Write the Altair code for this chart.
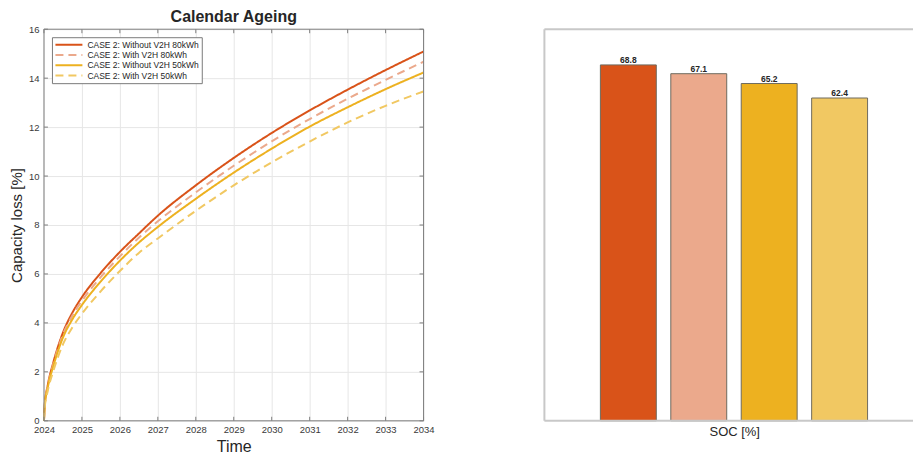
import altair as alt
import pandas as pd

# Series names (legend order) and colours
series_names = [
    "CASE 2: Without V2H 80kWh",
    "CASE 2: With V2H 80kWh",
    "CASE 2: Without V2H 50kWh",
    "CASE 2: With V2H 50kWh",
]
series_colors = ["#D95319", "#EBA98C", "#EDB120", "#F1C862"]
series_dashes = [[1, 0], [8, 5], [1, 0], [8, 5]]

# Calendar ageing curves: capacity loss [%] over time
years = [2024.0, 2024.02, 2024.1, 2024.25, 2024.5, 2024.75, 2025.0, 2025.5,
         2026.0, 2026.5, 2027.0, 2028.0, 2029.0, 2030.0, 2031.0, 2032.0,
         2033.0, 2034.0]
loss_without_80 = [0, 0.65, 1.45, 2.4, 3.6, 4.42, 5.05, 6.05,
                   6.9, 7.65, 8.38, 9.62, 10.74, 11.76, 12.68, 13.53,
                   14.33, 15.09]
loss_with_80 = [0, 0.63, 1.4, 2.33, 3.52, 4.3, 4.9, 5.88,
                6.72, 7.48, 8.15, 9.33, 10.42, 11.42, 12.33, 13.16,
                13.93, 14.67]
loss_without_50 = [0, 0.6, 1.36, 2.25, 3.4, 4.15, 4.73, 5.7,
                   6.54, 7.28, 7.92, 9.07, 10.14, 11.12, 12.02, 12.81,
                   13.55, 14.23]
loss_with_50 = [0, 0.55, 1.22, 2.05, 3.12, 3.82, 4.37, 5.3,
                6.12, 6.86, 7.45, 8.58, 9.62, 10.56, 11.41, 12.19,
                12.87, 13.46]

# Mean state of charge per case [%]
soc_values = [68.8, 67.1, 65.2, 62.4]

# Axis tick values
year_ticks = list(range(2024, 2035))
loss_ticks = list(range(0, 17, 2))

FONT = "Liberation Sans"
TEXT = "#262626"
TICK_TEXT = "#3a3a3a"
FRAME = "#808080"

W, H = 380, 392
W_BAR = 369

rows = []
for name, vals in zip(series_names,
                      [loss_without_80, loss_with_80, loss_without_50, loss_with_50]):
    for yr, v in zip(years, vals):
        rows.append({"year": yr, "loss": v, "series": name})
curves = pd.DataFrame(rows)

x_scale = alt.Scale(domain=[2024, 2034], nice=False, zero=False)
y_scale = alt.Scale(domain=[0, 16], nice=False)

legend = alt.Legend(
    title=None, orient="top-left", offset=8,
    fillColor="white", strokeColor="#7a7a7a", padding=2.5, cornerRadius=0,
    symbolType="stroke", symbolSize=729, symbolStrokeWidth=2,
    labelFont=FONT, labelFontSize=8.5, labelColor=TEXT, labelOffset=4,
    clipHeight=10, rowPadding=0.3,
)

x_axis = alt.Axis(
    values=year_ticks, format="d", title="Time", grid=True,
    gridColor="#e6e6e6", domain=False, ticks=False, tickSize=0,
    labelFont=FONT, labelFontSize=9.5, labelColor=TICK_TEXT, labelPadding=4,
    labelFlush=False, titleFont=FONT, titleFontSize=16, titleColor=TEXT,
    titleFontWeight="normal", titlePadding=4,
)
y_axis = alt.Axis(
    values=loss_ticks, title="Capacity loss [%]", grid=True,
    gridColor="#e6e6e6", domain=False, ticks=False, tickSize=0,
    labelFont=FONT, labelFontSize=9.5, labelColor=TICK_TEXT, labelPadding=5,
    titleFont=FONT, titleFontSize=15, titleColor=TEXT,
    titleFontWeight="normal", titlePadding=4,
)

lines = alt.Chart(curves).mark_line(strokeWidth=2, interpolate="monotone").encode(
    x=alt.X("year:Q", scale=x_scale, axis=x_axis),
    y=alt.Y("loss:Q", scale=y_scale, axis=y_axis),
    color=alt.Color("series:N", sort=series_names,
                    scale=alt.Scale(domain=series_names, range=series_colors),
                    legend=legend),
    strokeDash=alt.StrokeDash("series:N", sort=series_names,
                              scale=alt.Scale(domain=series_names, range=series_dashes),
                              legend=legend),
)

# Inward tick marks on all four sides of the axes box
xt = pd.DataFrame({"year": year_ticks})
yt = pd.DataFrame({"loss": loss_ticks})
tick_bottom = alt.Chart(xt).mark_rule(color=FRAME).encode(
    x=alt.X("year:Q", scale=x_scale, axis=x_axis), y=alt.value(H), y2=alt.value(H - 4))
tick_top = alt.Chart(xt).mark_rule(color=FRAME).encode(
    x=alt.X("year:Q", scale=x_scale, axis=x_axis), y=alt.value(0), y2=alt.value(4))
tick_left = alt.Chart(yt).mark_rule(color=FRAME).encode(
    y=alt.Y("loss:Q", scale=y_scale, axis=y_axis), x=alt.value(0), x2=alt.value(4))
tick_right = alt.Chart(yt).mark_rule(color=FRAME).encode(
    y=alt.Y("loss:Q", scale=y_scale, axis=y_axis), x=alt.value(W - 4), x2=alt.value(W))

# Axes box around the ageing plot
box_src = pd.DataFrame({"k": [0]})
box_top = alt.Chart(box_src).mark_rule(color=FRAME).encode(
    x=alt.value(0), x2=alt.value(W), y=alt.value(0))
box_bottom = alt.Chart(box_src).mark_rule(color=FRAME).encode(
    x=alt.value(0), x2=alt.value(W), y=alt.value(H))
box_left = alt.Chart(box_src).mark_rule(color=FRAME).encode(
    x=alt.value(0), y=alt.value(0), y2=alt.value(H))
box_right = alt.Chart(box_src).mark_rule(color=FRAME).encode(
    x=alt.value(W), y=alt.value(0), y2=alt.value(H))

ageing = alt.layer(
    lines, tick_bottom, tick_top, tick_left, tick_right,
    box_top, box_bottom, box_left, box_right,
).properties(
    width=W, height=H,
    title=alt.Title("Calendar Ageing", font=FONT, fontSize=16, fontWeight="bold",
                    color=TEXT, offset=-1, anchor="middle"),
)

# SOC bar panel
soc = pd.DataFrame({"case": series_names, "soc": soc_values})
bx = alt.X(
    "case:N", sort=series_names,
    scale=alt.Scale(domain=series_names, paddingInner=0.206, paddingOuter=0.72, align=0.552),
    axis=alt.Axis(labels=False, ticks=False, domain=False, grid=False,
                  title="SOC [%]", titleX=190, titleFont=FONT, titleFontSize=13,
                  titleColor=TEXT, titleFontWeight="normal", titlePadding=5),
)
by = alt.Y("soc:Q", scale=alt.Scale(domain=[0, 75.7], nice=False), axis=None)

bars = alt.Chart(soc).mark_bar(stroke="#6e6a5e", strokeWidth=1).encode(
    x=bx, y=by,
    color=alt.Color("case:N", scale=alt.Scale(domain=series_names, range=series_colors),
                    legend=None),
)
labels = alt.Chart(soc).mark_text(
    dy=-2, baseline="alphabetic", font=FONT, fontSize=8.5, fontWeight="bold", color=TEXT
).encode(x=bx, y=by, text=alt.Text("soc:Q", format=".1f"))

# Light frame on the top, left and bottom of the bar panel
BOX = "#c8c8c8"
frame_top = alt.Chart(box_src).mark_rule(color=BOX, strokeWidth=2).encode(
    x=alt.value(0), x2=alt.value(W_BAR), y=alt.value(0))
frame_left = alt.Chart(box_src).mark_rule(color=BOX, strokeWidth=2).encode(
    x=alt.value(0), y=alt.value(0), y2=alt.value(H))
frame_bottom = alt.Chart(box_src).mark_rule(color=BOX, strokeWidth=2).encode(
    x=alt.value(0), x2=alt.value(W_BAR), y=alt.value(H))

soc_panel = alt.layer(bars, labels, frame_top, frame_left, frame_bottom).properties(
    width=W_BAR, height=H,
)

chart = alt.hconcat(ageing, soc_panel, spacing=121, bounds="flush").resolve_scale(
    color="independent", strokeDash="independent"
).properties(
    padding={"left": 9, "top": 9, "right": 0, "bottom": 0},
    background="white",
).configure(font=FONT).configure_view(strokeWidth=0, stroke="transparent")

chart.save("out.html", embed_options={"renderer": "svg", "actions": False})
